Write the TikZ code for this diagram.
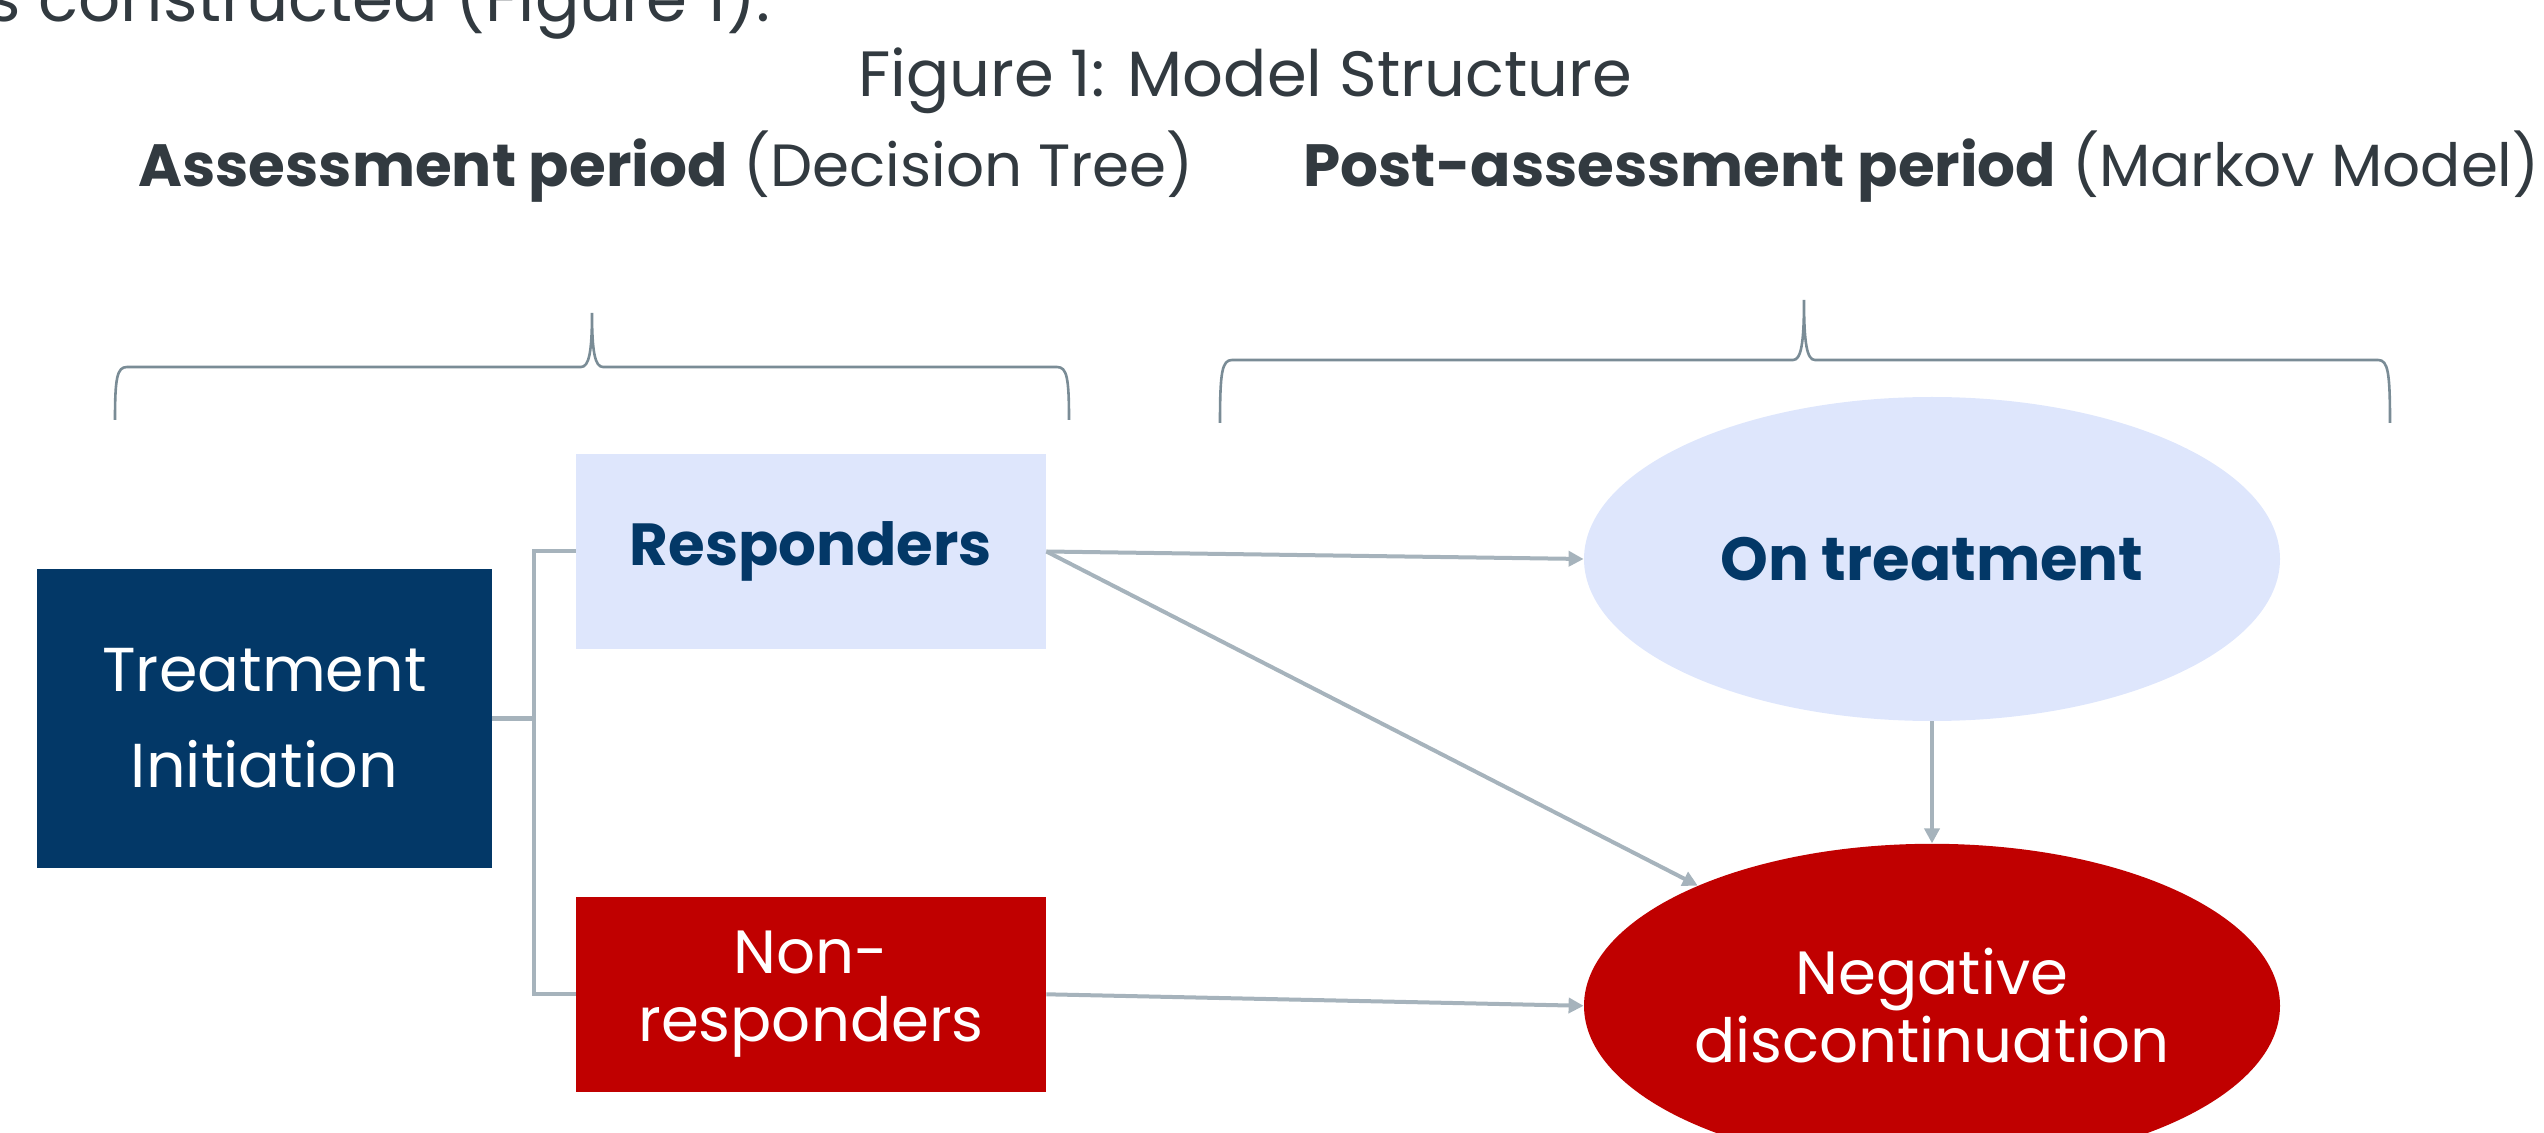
\documentclass[tikz,border=0pt]{standalone}
\usepackage{fontspec}
\setmainfont{Poppins}
\usetikzlibrary{positioning,shapes,arrows.meta}
\definecolor{navy}{RGB}{3,56,103}
\definecolor{paleblue}{RGB}{222,230,252}
\definecolor{deepred}{RGB}{192,0,0}
\definecolor{linegray}{RGB}{166,179,188}
\definecolor{bracegray}{RGB}{122,140,150}
\definecolor{inkgray}{RGB}{50,58,64}

\begin{document}
\begin{tikzpicture}[%
        x=0.5pt, y=-0.5pt,
        ->,
        >={Triangle[length=7.5pt,width=7.5pt]},
        link/.style={draw=linegray, line width=2pt},
        brace/.style={-, draw=bracegray, line width=1.3pt},
        box/.style={%
          rectangle,
          inner sep=0pt,
          minimum width=235pt,
          minimum height=97.5pt,
          align=center
        },
        state/.style={%
          ellipse,
          inner sep=0pt,
          minimum width=348pt,
          minimum height=162pt,
          align=center
        },
        heading/.style={text=inkgray, font=\fontsize{29.8}{34}\selectfont},
        label/.style={font=\fontsize{30.5}{34}\selectfont}
      ]
      \useasboundingbox (0,0) rectangle (2544,1133);
      % text above the figure
      \node[heading, font=\fontsize{33}{38}\selectfont, anchor=base west, inner sep=0pt] (intro) at (-14,22) {s constructed (Figure 1).};
      \node[heading, font=\fontsize{32}{38}\selectfont, anchor=base, inner sep=0pt] (title) at (1245,97) {Figure 1: Model Structure};
      \node[heading, anchor=base west, inner sep=0pt] (dtree) at (138,187) {\textbf{Assessment period} (Decision Tree)};
      \node[heading, anchor=base west, inner sep=0pt] (markov) at (1303,187) {\textbf{Post-assessment period} (Markov Model)};
      % braces
      \draw[brace] (115,420) .. controls (115,378) and (117,367) .. (127,367) -- (581,367)
        .. controls (589,367) and (592,352) .. (592,313)
        .. controls (592,352) and (595,367) .. (603,367) -- (1057,367)
        .. controls (1067,367) and (1069,378) .. (1069,420);
      \draw[brace] (1220,423) .. controls (1220,372) and (1222,360) .. (1232,360) -- (1793,360)
        .. controls (1801,360) and (1804,344) .. (1804,300)
        .. controls (1804,344) and (1807,360) .. (1815,360) -- (2378,360)
        .. controls (2388,360) and (2390,372) .. (2390,423);
      % decision tree
      \node[box, fill=navy, text=white, font=\fontsize{31}{48}\selectfont, minimum width=227.5pt, minimum height=149.5pt] (init) at (264.5,718.5) {Treatment\\Initiation};
      \node[box, fill=paleblue, text=navy, font=\fontsize{29.7}{34}\selectfont\bfseries] (resp) at (811,551.5) {Responders};
      \node[box, fill=deepred, text=white, label] (nonresp) [below=123.5pt of resp] {Non-\\responders};
      % markov states
      \node[state, fill=paleblue, text=navy, font=\fontsize{30.4}{34}\selectfont\bfseries] (ontreat) at (1932,559) {On treatment};
      \node[state, fill=deepred, text=white, label] (negdisc) [below=61pt of ontreat] {Negative\\discontinuation};
      \coordinate[right=21pt of init.east] (fork);
      \draw[link,-] (init.east) -- (fork);
      \draw[link,-] (resp.west) -| (fork) |- (nonresp.west);
      \path (resp.east) edge [link] (ontreat.west)
      (resp.east) edge [link] (negdisc)
      (ontreat.south) edge [link] (negdisc.north)
      (nonresp.east) edge [link] (negdisc.west);
  \end{tikzpicture}
\end{document}
